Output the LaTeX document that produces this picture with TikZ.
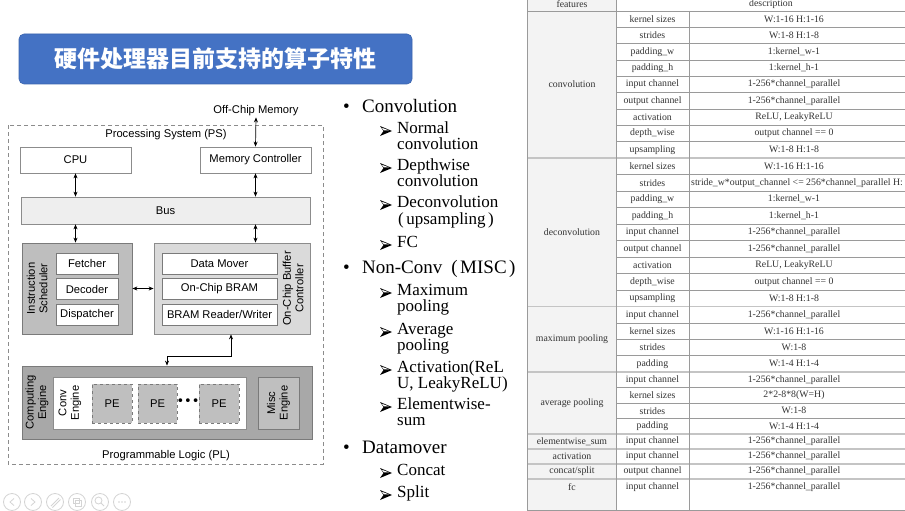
\documentclass[tikz,border=0pt]{standalone}
\usepackage{fontspec}
\setmainfont{Liberation Serif}
\setsansfont{Liberation Sans}
\newfontfamily\cjk{Noto Sans CJK SC}
\newfontfamily\symf{DejaVu Sans}
\usetikzlibrary{arrows.meta,calc}

\definecolor{titleblue}{HTML}{4472C4}
\definecolor{titleedge}{HTML}{3B64AE}
\definecolor{edgegray}{HTML}{8C8C8C}
\definecolor{darkedge}{HTML}{7A7A7A}
\definecolor{busfill}{HTML}{EEEEEE}
\definecolor{schedfill}{HTML}{BEBEBE}
\definecolor{buffill}{HTML}{DADADA}
\definecolor{compfill}{HTML}{A8A8A8}
\definecolor{pefill}{HTML}{BFBFBF}
\definecolor{tline}{HTML}{9A9A9A}
\definecolor{tblock}{HTML}{C4C4C4}
\definecolor{tcolfill}{HTML}{F3F3F3}
\definecolor{tText}{HTML}{333333}
\definecolor{navgray}{HTML}{D4D4D4}

% table row: name, y-centre, parameter, description
\newcommand\trow[4]{%
  \node[tcell] (#1a) at (652.5,#2) {#3};
  \node[tcell] (#1b) at (794,#2) {#4};}
% wide-set parentheses
\newcommand\wpl[1]{\kern#1(\kern2.5pt}
\newcommand\wpr[1]{\kern2.5pt)\kern#1}

\begin{document}
\begin{tikzpicture}[x=1pt,y=-1pt,
  dfont/.style={font=\sffamily\fontsize{11.2}{12.5}\selectfont},
  wbox/.style={dfont, draw=edgegray, fill=white, line width=0.7pt, inner sep=0pt},
  ibox/.style={dfont, draw=darkedge, fill=white, line width=0.7pt, inner sep=0pt,
    minimum height=21pt},
  grpbox/.style={draw=darkedge, line width=0.8pt, inner sep=0pt},
  pebox/.style={dfont, draw=darkedge, dashed, fill=pefill, line width=0.7pt,
    inner sep=0pt, minimum width=40pt, minimum height=39pt},
  vlabel/.style={dfont, rotate=90, align=center, inner sep=0pt},
  plain/.style={dfont, inner sep=0pt},
  biarrow/.style={{Stealth[length=5pt,width=4pt]}-{Stealth[length=5pt,width=4pt]},
    line width=0.7pt},
  lvla/.style={anchor=base west, inner sep=0pt, font=\fontsize{19}{19}\selectfont},
  lvlb/.style={anchor=base west, inner sep=0pt, font=\fontsize{17}{16}\selectfont},
  bul/.style={anchor=base west, inner sep=0pt, font=\fontsize{19}{19}\selectfont},
  bularrow/.pic={
    \fill[black] (0,-5) -- (12,0) -- (0,5) -- (3.5,0) -- cycle;
    \fill[white] (1.7,-3.3) -- (9.2,-0.55) -- (3.9,-0.55) -- cycle;},
  tcell/.style={inner sep=0pt, text=tText, font=\fontsize{9.8}{11}\selectfont},
  tline/.style={draw=tline, line width=0.6pt},
  tblock/.style={draw=tblock, line width=1.8pt},
  nav/.style={draw=navgray, line width=0.8pt}]
\useasboundingbox (0,0) rectangle (905,511);
\fill[white] (0,0) rectangle (905,511);

% ---------- title banner ----------
\node[draw=titleedge, fill=titleblue, rounded corners=5pt, line width=0.6pt,
  minimum width=393pt, minimum height=50pt, inner sep=0pt] (title) at (215.5,59) {};
\node[text=white, font=\cjk\bfseries\fontsize{23}{23}\selectfont, inner sep=0pt]
  (titletext) at (215,59) {硬件处理器目前支持的算子特性};

% ---------- system block diagram ----------
\draw[draw=edgegray, line width=0.8pt, dash pattern=on 4pt off 3pt]
  (8,125) rectangle (323,464);
\node[plain] (offchip) at (256,111) {Off-Chip Memory};
\node[plain] (pslabel) at (166,135) {Processing System (PS)};
\node[plain] (pllabel) at (166,456) {Programmable Logic (PL)};

\node[wbox, minimum width=111pt, minimum height=26pt] (cpu) at (75.5,160) {CPU};
\node[wbox, minimum width=111pt, minimum height=26pt] (memctrl) at (255.5,160) {Memory Controller};
\node[wbox, fill=busfill, minimum width=289pt, minimum height=27pt] (bus) at (165.5,210.5) {Bus};

\node[grpbox, fill=schedfill, minimum width=110pt, minimum height=91pt] (sched) at (77,288.5) {};
\node[grpbox, draw=edgegray, fill=buffill, minimum width=156pt, minimum height=91pt] (buf) at (232,288.5) {};
\node[vlabel] (schedlabel) at (37,288.5) {Instruction\\Scheduler};
\node[vlabel] (buflabel) at (293,288.5) {On-Chip Buffer\\Controller};

\node[ibox, minimum width=62pt] (fetch) at (87,263.5) {Fetcher};
\node[ibox, minimum width=62pt] (decode) at (87,289) {Decoder};
\node[ibox, minimum width=62pt] (dispatch) at (87,314.5) {Dispatcher};
\node[ibox, minimum width=115pt] (datamover) at (219.5,263.5) {Data Mover};
\node[ibox, minimum width=115pt] (bram) at (219.5,289) {On-Chip BRAM};
\node[ibox, minimum width=115pt] (rw) at (219.5,314.5) {BRAM Reader/Writer};

\node[grpbox, fill=compfill, minimum width=290pt, minimum height=73pt] (comp) at (167,402.5) {};
\node[vlabel] (complabel) at (37,402.5) {Computing\\Engine};
\node[grpbox, draw=edgegray, fill=white, minimum width=193pt, minimum height=52pt] (conv) at (149.5,403) {};
\node[vlabel] (convlabel) at (70,403) {Conv\\Engine};
\node[pebox] (pea) at (112,403.5) {PE};
\node[pebox, minimum width=39pt] (peb) at (157.5,403.5) {PE};
\node[pebox] (pec) at (219,403.5) {PE};
\node[plain, font=\fontsize{13}{13}\selectfont] (dots) at (188,402) {\symf•••};
\node[grpbox, fill=pefill, minimum width=41pt, minimum height=52pt] (misc) at (278.5,403) {};
\node[vlabel] (misclabel) at (278.5,403) {Misc\\Engine};

% connectors
\draw[biarrow] ([yshift=-1pt]offchip.south) -- (memctrl.north);
\draw[biarrow] (cpu.south) -- (cpu.south |- bus.north);
\draw[biarrow] (memctrl.south) -- (memctrl.south |- bus.north);
\draw[biarrow] (cpu.south |- bus.south) -- (cpu.south |- sched.north);
\draw[biarrow] (memctrl.south |- bus.south) -- (memctrl.south |- buf.north);
\draw[biarrow] (sched.east) -- (buf.west);
\draw[biarrow] ([xshift=-1pt]buf.south) -- ++(0,22) -| (comp.north);

% ---------- operator list ----------
\node[bul] (b1) at (343,112) {•};
\node[lvla] (l1) at (362,112) {Convolution};
\pic at (380,131) {bularrow};
\node[lvlb] (l1a) at (397,133) {Normal};
\node[lvlb] (l1b) at (397,149) {convolution};
\pic at (380,168) {bularrow};
\node[lvlb] (l2a) at (397,170) {Depthwise};
\node[lvlb] (l2b) at (397,186) {convolution};
\pic at (380,205) {bularrow};
\node[lvlb] (l3a) at (397,207) {Deconvolution};
\node[lvlb] (l3b) at (398,224) {\wpl{0pt}upsampling\wpr{0pt}};
\pic at (380,245) {bularrow};
\node[lvlb] (l4a) at (397,247) {FC};

\node[bul] (b2) at (343,273) {•};
\node[lvla] (l5) at (362,273) {Non-Conv\wpl{9pt}MISC\wpr{0pt}};
\pic at (380,293) {bularrow};
\node[lvlb] (l5a) at (397,295) {Maximum};
\node[lvlb] (l5b) at (397,311) {pooling};
\pic at (380,332) {bularrow};
\node[lvlb] (l6a) at (397,334) {Average};
\node[lvlb] (l6b) at (397,350) {pooling};
\pic at (380,370) {bularrow};
\node[lvlb] (l7a) at (397,372) {Activation(ReL};
\node[lvlb] (l7b) at (397,388) {U, LeakyReLU)};
\pic at (380,407) {bularrow};
\node[lvlb] (l8a) at (397,409) {Elementwise-};
\node[lvlb] (l8b) at (397,425) {sum};

\node[bul] (b3) at (343,453) {•};
\node[lvla] (l9) at (362,453) {Datamover};
\pic at (380,473) {bularrow};
\node[lvlb] (l9a) at (397,475) {Concat};
\pic at (380,495) {bularrow};
\node[lvlb] (l10a) at (397,497) {Split};

% ---------- feature table ----------
\fill[tcolfill] (527,0) rectangle (616,511);
% row separators inside the parameter/description columns
\foreach \yy in {27.33,43.67,60,76.33,92.67,109,125.33,141.67,
                 174.5,191,207.5,224,240.5,257,273.5,290,
                 322.9,339.25,355.6, 387.5,403,418.5}
  \draw[tline] (616,\yy) -- (905,\yy);
% block separators
\foreach \yy in {158,306.5,372,434,449,464,479}
  \draw[tblock] (527,\yy) -- (905,\yy);
\draw[tline] (527,11) -- (905,11);
\draw[tline] (527,510) -- (905,510);
\draw[tline] (527,0) -- (527,511);
\draw[tline] (616,0) -- (616,511);
\draw[tline] (689,11) -- (689,511);

\node[tcell] (hfeat) at (572,4) {features};
\node[tcell] (hdesc) at (771,4) {description};

\node[tcell] (fconv) at (572,84.5) {convolution};
\trow{c1}{19.2}{kernel sizes}{W:1-16 H:1-16}
\trow{c2}{35.5}{strides}{W:1-8 H:1-8}
\trow{c3}{51.8}{padding\_w}{1:kernel\_w-1}
\trow{c4}{68.2}{padding\_h}{1:kernel\_h-1}
\trow{c5}{84.5}{input channel}{1-256*channel\_parallel}
\trow{c6}{100.8}{output channel}{1-256*channel\_parallel}
\trow{c7}{117.2}{activation}{ReLU, LeakyReLU}
\trow{c8}{133.5}{depth\_wise}{output channel == 0}
\trow{c9}{149.8}{upsampling}{W:1-8 H:1-8}

\node[tcell] (fdeconv) at (572,232) {deconvolution};
\trow{d1}{166.2}{kernel sizes}{W:1-16 H:1-16}
\node[tcell] (d2a) at (652.5,182.7) {strides};
\node[tcell, anchor=west] (d2b) at (691,182.7) {stride\_w*output\_channel <= 256*channel\_parallel H:};
\trow{d3}{199.2}{padding\_w}{1:kernel\_w-1}
\trow{d4}{215.7}{padding\_h}{1:kernel\_h-1}
\trow{d5}{232.2}{input channel}{1-256*channel\_parallel}
\trow{d6}{248.7}{output channel}{1-256*channel\_parallel}
\trow{d7}{265.2}{activation}{ReLU, LeakyReLU}
\trow{d8}{281.7}{depth\_wise}{output channel == 0}
\trow{d9}{298.2}{upsampling}{W:1-8 H:1-8}

\node[tcell] (fmax) at (572,339) {maximum pooling};
\trow{m1}{314.7}{input channel}{1-256*channel\_parallel}
\trow{m2}{331.1}{kernel sizes}{W:1-16 H:1-16}
\trow{m3}{347.4}{strides}{W:1-8}
\trow{m4}{363.8}{padding}{W:1-4 H:1-4}

\node[tcell] (favg) at (572,403) {average pooling};
\trow{v1}{379.8}{input channel}{1-256*channel\_parallel}
\trow{v2}{395.3}{kernel sizes}{2*2-8*8(W=H)}
\trow{v3}{410.8}{strides}{W:1-8}
\trow{v4}{426.3}{padding}{W:1-4 H:1-4}

\node[tcell] (felem) at (572,441.5) {elementwise\_sum};
\trow{e1}{441.5}{input channel}{1-256*channel\_parallel}
\node[tcell] (fact) at (572,456.5) {activation};
\trow{e2}{456.5}{input channel}{1-256*channel\_parallel}
\node[tcell] (fcat) at (572,471.5) {concat/split};
\trow{e3}{471.5}{output channel}{1-256*channel\_parallel}
\node[tcell] (ffc) at (572,487) {fc};
\trow{e4}{487}{input channel}{1-256*channel\_parallel}

% ---------- slide-show controls ----------
\foreach \cx in {12,33,55,77,100,122}
  \draw[nav] (\cx,502) circle (8.5pt);
\draw[nav, line join=round] (14,498.5) -- (10,502) -- (14,505.5);
\draw[nav, line join=round] (31,498.5) -- (35,502) -- (31,505.5);
\draw[nav] (51,506) -- (59,498);
\draw[nav] (52.5,507.5) -- (60.5,499.5);
\draw[nav] (73,498) rectangle (79,503);
\draw[nav] (75.5,500.5) rectangle (81,506);
\draw[nav] (98.5,500.5) circle (3.5pt);
\draw[nav] (101,503) -- (104,506);
\foreach \dx in {-3,0,3}
  \fill[navgray] (122+\dx,502) circle (0.9pt);
\end{tikzpicture}
\end{document}
